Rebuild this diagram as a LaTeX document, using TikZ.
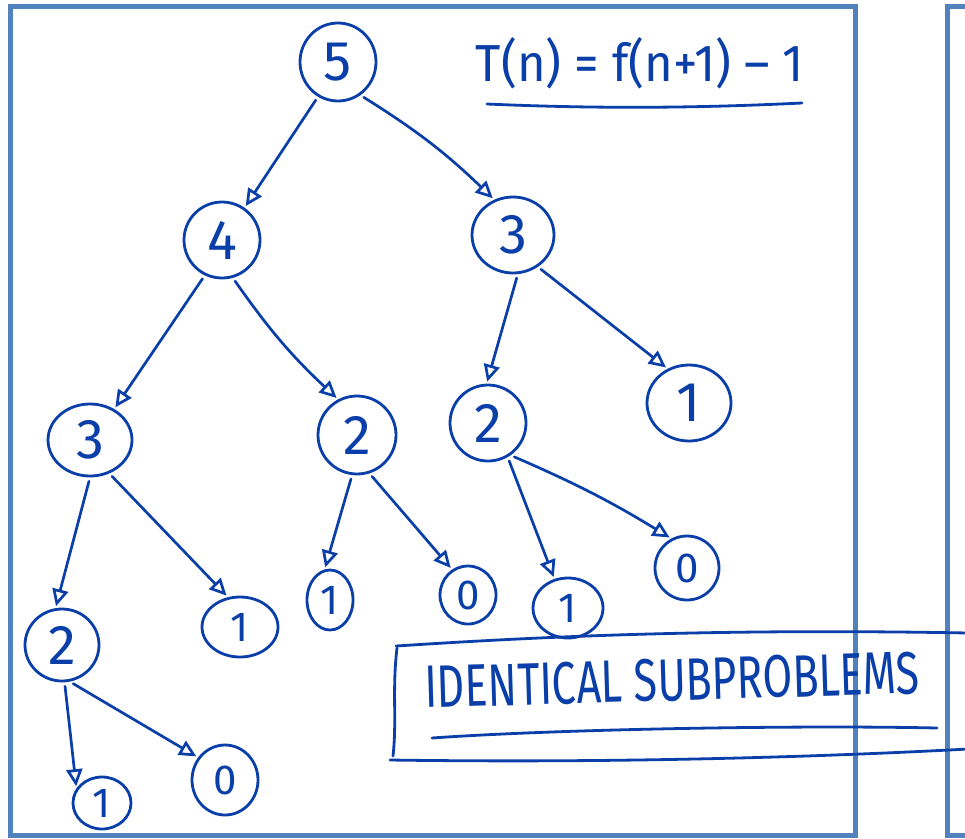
\documentclass[tikz,border=0pt]{standalone}
\usepackage{fontspec}
\setmainfont{Fira Sans}
\usetikzlibrary{
  arrows.meta,
  shapes.geometric,
}
\definecolor{ink}{RGB}{10,62,168}
\definecolor{frame}{RGB}{80,130,190}

\begin{document}
\begin{tikzpicture}[x=1pt, y=-1pt,
    num/.style={draw=ink, text=ink, ellipse, line width=2.8pt, inner sep=0pt},
    sz/.style 2 args={minimum width=#1pt, minimum height=#2pt},
    big/.style={font=\fontsize{56}{56}\selectfont},
    small/.style={font=\fontsize{42}{42}\selectfont},
    edge/.style={draw=ink, line width=2.7pt, line cap=round,
      -{Triangle[open, length=17pt, width=16pt]}, shorten <=4pt, shorten >=2pt},
    ink line/.style={draw=ink, line width=2.8pt, line cap=round},
    panel/.style={draw=frame, line width=5pt}]
    \useasboundingbox (0,0) rectangle (965,838);
    \draw [panel] (10,6) rectangle (855,835);
    \draw [panel] (968,6) -- (947,6) -- (947,835) -- (968,835);
    \node [num, big, sz={76}{78}] (n5) at (338,62) {5};
    \node [num, big, sz={76}{76}] (n4) at (222,240) {4};
    \node [num, big, sz={82}{76}] (n3r) at (513,235) {3};
    \node [num, big, sz={84}{72}] (n3l) at (90,440) {3};
    \node [num, big, sz={78}{78}] (n2m) at (357,435) {2};
    \node [num, big, sz={76}{76}] (n2r) at (488,423) {2};
    \node [num, big, sz={84}{76}] (n1r) at (689,403) {1};
    \node [num, big, sz={74}{72}] (n2l) at (62,645) {2};
    \node [num, small, sz={76}{60}] (n1l) at (240,627) {1};
    \node [num, small, sz={46}{60}] (n1m) at (330,600) {1};
    \node [num, small, sz={56}{58}] (n0m) at (468,595) {0};
    \node [num, small, sz={70}{60}] (n1s) at (568,608) {1};
    \node [num, small, sz={64}{64}] (n0r) at (687,568) {0};
    \node [num, small, sz={58}{52}] (n1b) at (102,803) {1};
    \node [num, small, sz={66}{70}] (n0b) at (225,780) {0};
    \draw [edge] (n5.240) to (n4.55);
    \draw [edge] (n5.304) to [bend left=6] (n3r.118);
    \draw [edge] (n4.244) to (n3l.52);
    \draw [edge] (n4.286) to [bend right=6] (n2m.118);
    \draw [edge] (n3r.277) to (n2r.92);
    \draw [edge] (n3r.308) to (n1r.122);
    \draw [edge] (n3l.270) to (n2l.100);
    \draw [edge] (n3l.300) to (n1l.112);
    \draw [edge] (n2m.263) to (n1m.100);
    \draw [edge] (n2m.288) to (n0m.122);
    \draw [edge] (n2r.300) to (n1s.115);
    \draw [edge] (n2r.305) to [bend left=4] (n0r.118);
    \draw [edge] (n2l.274) to (n1b.150);
    \draw [edge] (n2l.282) to (n0b.140);
    \node [text=ink] (frm) at (640,63) {\resizebox{328pt}{44pt}{T(n) = f(n+1) – 1}};
    \draw [ink line] (487,104) .. controls (600,109) and (700,108) .. (802,103);
    \node [text=ink, rotate=1.7] (idt) at (672,680) {\resizebox{495pt}{42pt}{IDENTICAL SUBPROBLEMS}};
    \draw [ink line] (396,646) .. controls (520,638) and (700,628) .. (968,633);
    \draw [ink line] (397,648) .. controls (392,690) and (397,720) .. (393,756);
    \draw [ink line] (390,760) .. controls (600,763) and (800,758) .. (968,749);
    \draw [ink line] (432,738) .. controls (560,729) and (800,725) .. (937,728);
\end{tikzpicture}
\end{document}
